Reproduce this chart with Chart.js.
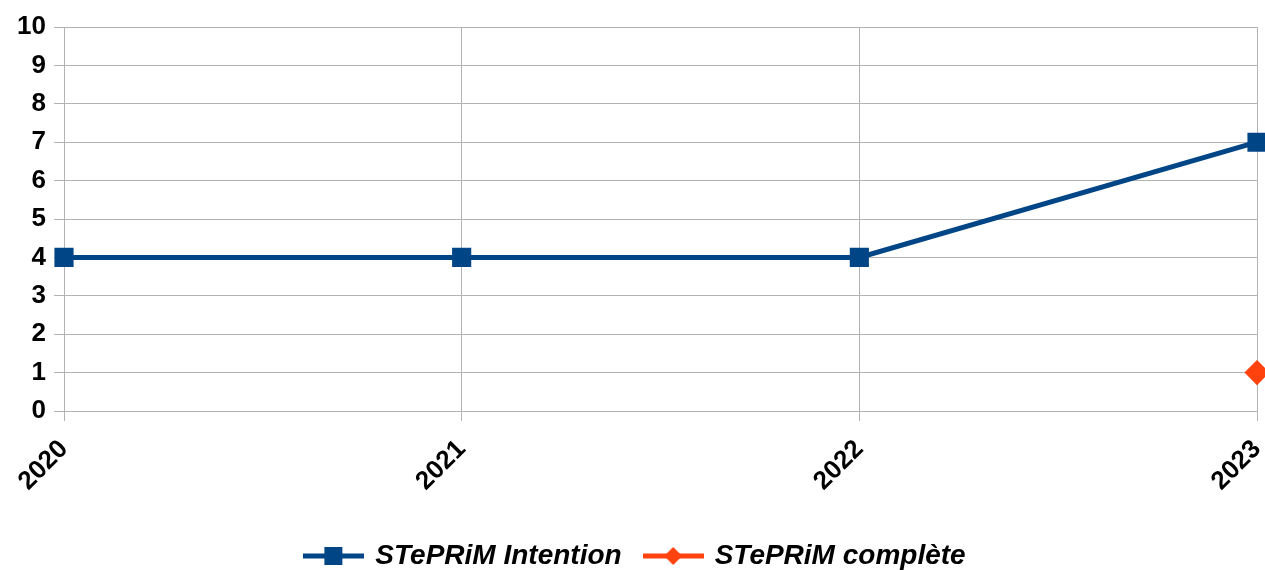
<!DOCTYPE html>
<html>
<head>
<meta charset="utf-8">
<script src="https://cdn.jsdelivr.net/npm/chart.js@4"></script>
<style>
  html, body { margin: 0; padding: 0; background: #fff; overflow: hidden; }
  #wrap { width: 1272px; height: 570px; position: relative; }
</style>
</head>
<body>
<div id="wrap"><canvas id="chart"></canvas></div>
<script>
const years = ["2020", "2021", "2022", "2023"];
const intention = [4, 4, 4, 7];
const complete = [null, null, null, 1];
const yTicks = [0, 1, 2, 3, 4, 5, 6, 7, 8, 9, 10];

const BLUE = "#004586";
const ORANGE = "#ff420e";
const tickFont = { family: "Liberation Sans", size: 26, weight: "bold" };

// legend symbol: short line with the marker in the middle
function legendIcon(color, shape) {
  const c = document.createElement("canvas");
  c.width = 61; c.height = 20;
  const g = c.getContext("2d");
  g.strokeStyle = color;
  g.lineWidth = 5;
  g.beginPath(); g.moveTo(0, 10); g.lineTo(61, 10); g.stroke();
  g.fillStyle = color;
  if (shape === "square") {
    g.fillRect(21, 1, 18, 18);
  } else {
    g.beginPath();
    g.moveTo(30.5, 1); g.lineTo(39.5, 10); g.lineTo(30.5, 19); g.lineTo(21.5, 10);
    g.closePath(); g.fill();
  }
  return c;
}

new Chart(document.getElementById("chart"), {
  type: "line",
  data: {
    labels: years,
    datasets: [{
      label: "STePRiM Intention",
      data: intention,
      borderColor: BLUE,
      backgroundColor: BLUE,
      borderWidth: 5,
      pointStyle: "rect",
      pointRadius: 10,
      pointHoverRadius: 10,
      tension: 0
    }, {
      label: "STePRiM complète",
      data: complete,
      borderColor: ORANGE,
      backgroundColor: ORANGE,
      borderWidth: 5,
      pointStyle: "rectRot",
      pointRadius: 9,
      pointHoverRadius: 9,
      tension: 0
    }]
  },
  options: {
    responsive: true,
    maintainAspectRatio: false,
    animation: false,
    layout: { padding: { top: 27, right: 0, left: 0, bottom: -10 } },
    scales: {
      x: {
        offset: false,
        grid: { color: "#b3b3b3", tickLength: 10 },
        border: { color: "#b3b3b3" },
        ticks: {
          color: "#000",
          font: tickFont,
          maxRotation: 45, minRotation: 45,
          padding: 13
        },
        afterFit: axis => {
          axis.height = 107;
          axis.paddingLeft = 0;
          axis.paddingRight = 0;
        }
      },
      y: {
        min: 0, max: 10,
        afterBuildTicks: axis => { axis.ticks = yTicks.map(v => ({ value: v })); },
        grid: { color: "#b3b3b3", tickLength: 10 },
        border: { color: "#b3b3b3" },
        ticks: {
          color: "#000",
          font: tickFont,
          padding: 8
        },
        afterFit: axis => {
          axis.width = 64;
          axis.paddingTop = 0;
          axis.paddingBottom = 0;
        }
      }
    },
    plugins: {
      tooltip: { enabled: false },
      legend: {
        position: "bottom",
        labels: {
          usePointStyle: true,
          pointStyleWidth: 55,
          color: "#000",
          font: { family: "Liberation Sans", size: 28, weight: "bold", style: "italic" },
          padding: 24,
          generateLabels: chart => chart.data.datasets.map((ds, i) => ({
            text: ds.label,
            pointStyle: legendIcon(ds.borderColor, i === 0 ? "square" : "diamond"),
            fillStyle: ds.borderColor,
            strokeStyle: ds.borderColor,
            fontColor: "#000",
            datasetIndex: i,
            hidden: false
          }))
        }
      }
    }
  }
});
</script>
</body>
</html>
